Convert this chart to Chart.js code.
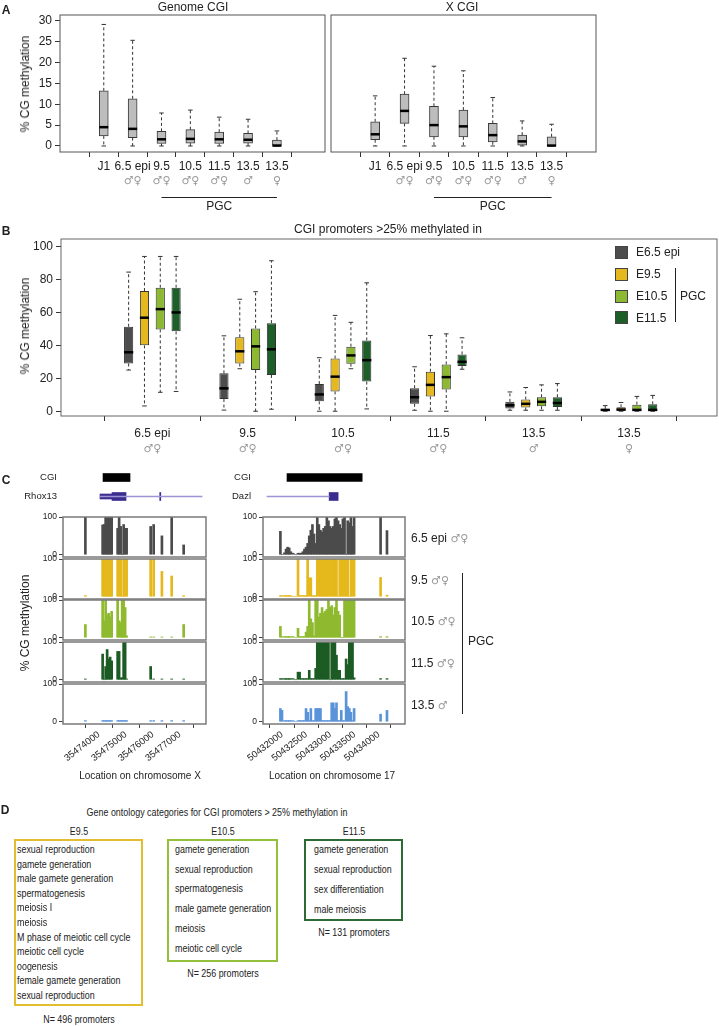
<!DOCTYPE html>
<html>
<head>
<meta charset="utf-8">
<script src="https://cdn.jsdelivr.net/npm/chart.js@4.4.1/dist/chart.umd.min.js"></script>
<style>
  body { margin: 0; background: #fff; }
  #fig { position: relative; width: 719px; height: 1026px; overflow: hidden;
         font-family: 'Liberation Sans', Arial, sans-serif; color: #222; }
  #fig canvas { position: absolute; }
  .t { position: absolute; white-space: nowrap; line-height: 1; }
  .sex { color: #9a9a9a; font-family: 'DejaVu Sans', sans-serif; font-size: 11px; }
  .narrow { font-size: 11px; }
</style>
</head>
<body>
<div id="fig"></div>
<script>
// ---------- panel A : CGI methylation, five-number summaries ----------
const aStages = ['J1', '6.5 epi', '9.5', '10.5', '11.5', '13.5', '13.5'];
const aSex = ['', '♂♀', '♂♀', '♂♀', '♂♀', '♂', '♀'];
const aTicks = [0, 5, 10, 15, 20, 25, 30];

const genomeMin = [0, 0, 0, 0, 0, 0, 0];
const genomeQ1  = [2.4, 2.0, 0.6, 0.7, 0.6, 0.7, 0];
const genomeMed = [4.5, 4.1, 1.6, 1.7, 1.6, 1.5, 0.1];
const genomeQ3  = [13.2, 11.3, 3.5, 3.9, 3.3, 3.0, 1.4];
const genomeMax = [29.1, 25.3, 7.9, 8.6, 6.9, 6.4, 3.6];

const xcgiMin = [0, 0, 0, 0, 0, 0, 0];
const xcgiQ1  = [1.5, 5.4, 2.2, 2.2, 1.0, 0.2, 0];
const xcgiMed = [2.8, 8.4, 5.0, 4.7, 2.6, 1.1, 0.1];
const xcgiQ3  = [5.8, 12.4, 9.5, 8.6, 5.4, 2.6, 2.2];
const xcgiMax = [12.0, 21.0, 19.1, 18.0, 11.6, 6.0, 5.2];

// ---------- panel B : promoters >25% methylated, [min, q1, median, q3, max] ----------
const bGroups = ['6.5 epi', '9.5', '10.5', '11.5', '13.5', '13.5'];
const bSex = ['♂♀', '♂♀', '♂♀', '♂♀', '♂', '♀'];
const bTicks = [0, 20, 40, 60, 80, 100];
const bStages = ['E6.5 epi', 'E9.5', 'E10.5', 'E11.5'];
const boxE65  = [[25, 29, 35.8, 51.3, 84.5], [0.7, 7.4, 13.9, 23, 45.8], [0, 6, 10.2, 16.5, 32.5], [0.6, 4.5, 8.5, 14, 27], [0.6, 1.6, 3.6, 5.7, 11.7], [0, 0, 0.8, 1.4, 3.4]];
const boxE95  = [[3.2, 40, 56.8, 73, 94], [25.8, 29, 36.4, 44.9, 68], [0, 12, 21, 32, 58.2], [0, 9, 16, 24, 46], [0.6, 2.2, 4.5, 7.1, 14.4], [0, 0, 1, 2.4, 5.3]];
const boxE105 = [[11.5, 49.7, 62, 75, 94], [0, 25, 39.4, 50.3, 72.6], [25.8, 28.9, 33.9, 39.2, 54], [0, 13.2, 20.7, 28.4, 47], [0.6, 3, 5.7, 8.5, 16], [0, 0, 0.8, 4, 9]];
const boxE115 = [[12, 48.5, 60, 75, 94], [1.2, 22, 37.6, 53.5, 91.4], [1.4, 18, 31, 43, 78], [25.5, 27.4, 30, 34.5, 44.6], [0.6, 2.6, 5, 8.5, 16.8], [0, 0, 0.8, 4.2, 9.6]];

// ---------- panel C : per-CpG methylation (%) at two loci ----------
const trackYTicks = [0, 100];
const trackNames = ['6.5 epi', '9.5', '10.5', '11.5', '13.5'];
const trackSex = ['♂♀', '♂♀', '♂♀', '♂♀', '♂'];

const rhoxTicks = [35474000, 35475000, 35476000, 35477000];
const rhoxSites = [35473500, 35474139, 35474195, 35474250, 35474306, 35474361, 35474417, 35474473, 35474695, 35474750,
                   35474806, 35474862, 35474917, 35474973, 35475028, 35475918, 35476029, 35476335, 35476697, 35477141];
const rhoxE65  = [100, 79, 80, 100, 100, 100, 100, 100, 70, 100, 75, 0, 80, 70, 70, 75, 80, 50, 100, 26];
const rhoxE95  = [3, 100, 100, 100, 100, 100, 100, 100, 100, 100, 100, 0, 100, 100, 100, 100, 100, 67, 55, 3];
const rhoxE105 = [35, 100, 45, 100, 60, 65, 55, 70, 100, 45, 40, 100, 100, 80, 5, 2, 2, 2, 2, 35];
const rhoxE115 = [2, 68, 0, 35, 80, 55, 60, 50, 75, 75, 5, 5, 100, 100, 2, 35, 2, 2, 2, 2];
const rhoxE135 = [3, 3, 3, 3, 3, 3, 3, 3, 3, 3, 3, 3, 3, 3, 3, 3, 3, 3, 3, 3];
const rhoxCGI = [35474445, 35475195];
const rhoxGene = [35474361, 35477197];
const rhoxUTR = [[35474361, 35474695]];
const rhoxExons = [[35474695, 35475084], [35476020, 35476050]];

const dazlTicks = [50432000, 50432500, 50433000, 50433500, 50434000];
const dazlSites = [50431967, 50432000, 50432050, 50432083, 50432116, 50432149, 50432182, 50432232, 50432282, 50432331,
                   50432364, 50432397, 50432431, 50432464, 50432497, 50432530, 50432563, 50432596, 50432629, 50432662,
                   50432696, 50432729, 50432762, 50432795, 50432828, 50432861, 50432894, 50432927, 50432960, 50432994,
                   50433027, 50433060, 50433093, 50433126, 50433159, 50433192, 50433225, 50433258, 50433292, 50433325,
                   50433358, 50433391, 50433424, 50433457, 50433490, 50434037, 50434169];
const dazlE65  = [62, 0, 5, 15, 20, 18, 8, 4, 0, 4, 4, 4, 8, 15, 20, 30, 50, 65, 80, 55,
                  30, 100, 80, 65, 60, 70, 75, 100, 90, 75, 70, 75, 95, 100, 90, 80, 70, 95, 100, 0,
                  90, 85, 100, 75, 100, 100, 64];
const dazlE95  = [3, 3, 3, 3, 3, 3, 3, 0, 0, 100, 3, 3, 3, 3, 3, 100, 50, 50, 3, 3,
                  3, 100, 100, 100, 100, 100, 100, 100, 100, 100, 100, 100, 100, 100, 0, 100, 100, 100, 100, 100,
                  100, 0, 100, 100, 100, 51, 4];
const dazlE105 = [30, 3, 3, 3, 3, 3, 3, 3, 0, 25, 3, 3, 3, 3, 15, 30, 100, 50, 40, 5,
                  100, 100, 55, 65, 80, 65, 70, 75, 100, 80, 85, 60, 80, 100, 70, 60, 0, 0, 100, 100,
                  100, 100, 100, 100, 100, 3, 3];
const dazlE115 = [3, 3, 3, 3, 3, 3, 3, 3, 0, 20, 20, 3, 3, 3, 3, 3, 25, 3, 3, 3,
                  30, 100, 100, 100, 100, 100, 100, 100, 100, 0, 100, 100, 100, 65, 25, 25, 3, 3, 3, 55,
                  40, 100, 100, 100, 5, 3, 3];
const dazlE135 = [35, 30, 3, 3, 3, 3, 3, 3, 0, 3, 3, 3, 3, 3, 35, 25, 3, 35, 3, 3,
                  35, 35, 35, 35, 3, 3, 3, 3, 3, 3, 50, 50, 35, 50, 3, 3, 30, 3, 3, 80,
                  40, 35, 25, 3, 35, 20, 30];
const dazlCGI = [50432298, 50433540];
const dazlGene = [50431967, 50432994];
const dazlUTR = [];
const dazlExons = [[50432994, 50433143]];

// ---------- panel D : GO categories ----------
const goE95 = ['sexual reproduction', 'gamete generation', 'male gamete generation', 'spermatogenesis', 'meiosis I',
               'meiosis', 'M phase of meiotic cell cycle', 'meiotic cell cycle', 'oogenesis',
               'female gamete generation', 'sexual reproduction'];
const goE105 = ['gamete generation', 'sexual reproduction', 'spermatogenesis', 'male gamete generation', 'meiosis',
                'meiotic cell cycle'];
const goE115 = ['gamete generation', 'sexual reproduction', 'sex differentiation', 'male meiosis'];
const promoterCounts = [496, 256, 131];

// ---------- setup ----------
Chart.defaults.font.family = "'Liberation Sans', Arial, sans-serif";
Chart.defaults.font.size = 12;
Chart.defaults.color = '#222';
Chart.defaults.animation = false;
Chart.defaults.plugins.legend.display = false;
Chart.defaults.plugins.tooltip.enabled = false;

const fig = document.getElementById('fig');
const sexFont = { family: "'DejaVu Sans', sans-serif", size: 11 };

function addCanvas(left, top, w, h) {
  const c = document.createElement('canvas');
  c.width = w; c.height = h;
  c.style.left = left + 'px'; c.style.top = top + 'px';
  c.style.width = w + 'px'; c.style.height = h + 'px';
  fig.appendChild(c);
  return c;
}

// centred text (anchor 'c') or left aligned and vertically centred (anchor 'l')
function addText(html, x, y, size, anchor, extra) {
  extra = extra || {};
  const d = document.createElement('div');
  d.className = 't' + (extra.cls ? ' ' + extra.cls : '');
  d.style.left = x + 'px';
  d.style.top = y + 'px';
  if (size) d.style.fontSize = size + 'px';
  let tr = anchor === 'l' ? 'translate(0,-50%)' : 'translate(-50%,-50%)';
  if (extra.rotate) tr += ' rotate(-90deg)';
  if (extra.squeeze) {
    tr += ` scaleX(${extra.squeeze})`;
    d.style.transformOrigin = anchor === 'l' ? 'left center' : 'center center';
  }
  d.style.transform = tr;
  if (extra.bold) d.style.fontWeight = 'bold';
  d.innerHTML = html;
  fig.appendChild(d);
  return d;
}

function addRule(left, top, w, h) {
  const d = document.createElement('div');
  d.style.cssText = `position:absolute;left:${left}px;top:${top}px;width:${w}px;height:${h}px;background:#222`;
  fig.appendChild(d);
}

const fixedTicks = (arr) => (s) => { s.ticks = arr.map(v => ({ value: v })); };

// frame around the plot area
const framePlugin = {
  id: 'frame',
  afterDatasetsDraw(chart, args, opts) {
    if (!opts || !opts.color) return;
    const a = chart.chartArea, ctx = chart.ctx;
    ctx.save();
    ctx.strokeStyle = opts.color;
    ctx.lineWidth = opts.width || 1;
    ctx.strokeRect(a.left, a.top, a.right - a.left, a.bottom - a.top);
    ctx.restore();
  }
};

// whiskers, caps and medians for the floating-bar boxes
const whiskerPlugin = {
  id: 'whiskers',
  afterDatasetsDraw(chart) {
    const ctx = chart.ctx, ys = chart.scales.y;
    chart.data.datasets.forEach((ds, di) => {
      if (!ds.whisker) return;
      chart.getDatasetMeta(di).data.forEach((bar, i) => {
        const x = bar.x, half = bar.width / 2;
        const lo = ys.getPixelForValue(ds.whisker.min[i]);
        const hi = ys.getPixelForValue(ds.whisker.max[i]);
        const q1 = ys.getPixelForValue(ds.data[i].y[0]);
        const q3 = ys.getPixelForValue(ds.data[i].y[1]);
        const md = ys.getPixelForValue(ds.whisker.med[i]);
        ctx.save();
        ctx.strokeStyle = '#333';
        ctx.lineWidth = 1;
        ctx.setLineDash([3, 2.5]);
        ctx.beginPath();
        ctx.moveTo(x, q3); ctx.lineTo(x, hi);
        ctx.moveTo(x, q1); ctx.lineTo(x, lo);
        ctx.stroke();
        ctx.setLineDash([]);
        ctx.beginPath();
        ctx.moveTo(x - half / 2, hi); ctx.lineTo(x + half / 2, hi);
        ctx.moveTo(x - half / 2, lo); ctx.lineTo(x + half / 2, lo);
        ctx.stroke();
        ctx.strokeStyle = '#000';
        ctx.lineWidth = 2.5;
        ctx.beginPath();
        ctx.moveTo(x - half, md); ctx.lineTo(x + half, md);
        ctx.stroke();
        ctx.restore();
      });
    });
  }
};

// "PGC" bracket under the x labels
const bracketPlugin = {
  id: 'bracket',
  afterDraw(chart, args, o) {
    if (!o || !o.label) return;
    const xs = chart.scales.x, ctx = chart.ctx;
    const x0 = xs.getPixelForValue(o.from), x1 = xs.getPixelForValue(o.to);
    ctx.save();
    ctx.strokeStyle = '#222';
    ctx.lineWidth = 1;
    ctx.beginPath();
    ctx.moveTo(x0, o.y + 0.5); ctx.lineTo(x1, o.y + 0.5);
    ctx.stroke();
    ctx.fillStyle = '#222';
    ctx.font = "12px 'Liberation Sans', Arial, sans-serif";
    ctx.textAlign = 'center';
    ctx.textBaseline = 'middle';
    ctx.fillText(o.label, (x0 + x1) / 2, o.textY);
    ctx.restore();
  }
};

Chart.register(framePlugin, whiskerPlugin, bracketPlugin);

// ---------- panel A ----------
function boxplotA(canvas, lo, q1, med, q3, hi, xr, showY, padL) {
  return new Chart(canvas, {
    type: 'bar',
    data: {
      datasets: [{
        data: q1.map((v, i) => ({ x: i + 1, y: [v, q3[i]] })),
        whisker: { min: lo, med: med, max: hi },
        backgroundColor: '#bdbdbd',
        borderColor: '#3a3a3a',
        borderWidth: 1,
        borderSkipped: false,
        barThickness: 9
      }]
    },
    options: {
      responsive: false,
      layout: { padding: { top: 15, right: 5, left: padL, bottom: 0 } },
      scales: {
        x: {
          type: 'linear', min: xr[0], max: xr[1], weight: 0,
          afterBuildTicks: fixedTicks(aStages.map((_, i) => i + 1)),
          afterFit: s => { s.height = 22; },
          ticks: { callback: (v, i) => aStages[i], autoSkip: false, maxRotation: 0, padding: 2 },
          grid: { drawOnChartArea: false, tickLength: 5, color: '#333' },
          border: { display: false }
        },
        x2: {
          type: 'linear', position: 'bottom', min: xr[0], max: xr[1], weight: 1,
          afterBuildTicks: fixedTicks(aSex.map((_, i) => i + 1)),
          afterFit: s => { s.height = 41; },
          ticks: { callback: (v, i) => aSex[i], autoSkip: false, maxRotation: 0, padding: 1,
                   color: '#9a9a9a', font: sexFont },
          grid: { display: false, drawTicks: false },
          border: { display: false }
        },
        y: {
          display: showY, min: -1.44, max: 31.36,
          afterBuildTicks: fixedTicks(aTicks),
          afterFit: s => { s.width = showY ? 60 : 0; },
          ticks: { padding: 3 },
          grid: { drawOnChartArea: false, tickLength: 5, color: '#333' },
          border: { display: false }
        }
      },
      plugins: {
        frame: { color: '#555', width: 1 },
        bracket: { from: 3, to: 7, y: 197, textY: 207, label: 'PGC' }
      }
    }
  });
}

boxplotA(addCanvas(0, 0, 330, 215), genomeMin, genomeQ1, genomeMed, genomeQ3, genomeMax, [0.139, 8.01], true, 0);
boxplotA(addCanvas(326, 0, 275, 215), xcgiMin, xcgiQ1, xcgiMed, xcgiQ3, xcgiMax, [0.142, 7.867], false, 5);

addText('A', 6, 10, 12, 'c', { bold: true });
addText('Genome CGI', 193, 7, 12);
addText('X CGI', 462, 7, 12);
addText('% CG methylation', 25, 84, 12, 'c', { rotate: true });

// ---------- panel B ----------
const bColors = ['#4d4d4d', '#e6b81f', '#8cb832', '#1e5e28'];
const bBoxes = [boxE65, boxE95, boxE105, boxE115];

new Chart(addCanvas(0, 228, 719, 234), {
  type: 'bar',
  data: {
    datasets: bBoxes.map((b, k) => ({
      label: bStages[k],
      data: b.map((s, i) => ({ x: i + 1, y: [s[1], s[3]] })),
      whisker: { min: b.map(s => s[0]), med: b.map(s => s[2]), max: b.map(s => s[4]) },
      backgroundColor: bColors[k],
      borderColor: '#333',
      borderWidth: 1,
      borderSkipped: false,
      categoryPercentage: 0.664,
      barPercentage: 0.58
    }))
  },
  options: {
    responsive: false,
    layout: { padding: { top: 11, right: 2, left: 0, bottom: 0 } },
    scales: {
      x: {
        type: 'linear', min: 0.615, max: 6.35, weight: 0,
        afterBuildTicks: fixedTicks(bGroups.map((_, i) => i + 1)),
        afterFit: s => { s.height = 26; },
        ticks: { callback: (v, i) => bGroups[i], autoSkip: false, maxRotation: 0, padding: 5 },
        grid: { drawOnChartArea: false, tickLength: 5, color: '#333' },
        border: { display: false }
      },
      x2: {
        type: 'linear', position: 'bottom', min: 0.615, max: 6.35, weight: 1,
        afterBuildTicks: fixedTicks(bSex.map((_, i) => i + 1)),
        afterFit: s => { s.height = 20; },
        ticks: { callback: (v, i) => bSex[i], autoSkip: false, maxRotation: 0, padding: 1,
                 color: '#9a9a9a', font: sexFont },
        grid: { display: false, drawTicks: false },
        border: { display: false }
      },
      y: {
        min: -2.9, max: 104.6,
        afterBuildTicks: fixedTicks(bTicks),
        afterFit: s => { s.width = 61; },
        ticks: { padding: 3 },
        grid: { drawOnChartArea: false, tickLength: 5, color: '#333' },
        border: { display: false }
      }
    },
    plugins: { frame: { color: '#666', width: 1 } }
  }
});

addText('B', 6, 231, 12, 'c', { bold: true });
addText('CGI promoters &gt;25% methylated in', 388, 229, 12);
addText('% CG methylation', 25, 326, 12, 'c', { rotate: true });

// legend built from the stage names and colours
bStages.forEach((name, k) => {
  const cy = 252 + 21.9 * k;
  const sq = document.createElement('div');
  sq.style.cssText = `position:absolute;left:615px;top:${cy - 6.25}px;width:11px;height:11px;` +
                     `background:${bColors[k]};border:1px solid #444`;
  fig.appendChild(sq);
  addText(name, 636, cy, 12, 'l');
});
addRule(675, 268, 1, 54);
addText('PGC', 680, 296, 12, 'l');

// ---------- panel C ----------
const trackColors = ['#4b4b4b', '#e5b81c', '#8fba2f', '#1d5b24', '#5b93d9'];
const trackTops = [517, 559, 600, 642, 684];

function track(left, width, sites, values, row, range, ticks) {
  const last = row === trackTops.length - 1;
  const c = addCanvas(left, trackTops[row] - 8, width, last ? 93 : 56);
  return new Chart(c, {
    type: 'bar',
    data: {
      datasets: [{
        data: sites.map((x, i) => ({ x: x, y: values[i] })),
        backgroundColor: trackColors[row],
        barThickness: 2
      }]
    },
    options: {
      responsive: false,
      layout: { padding: { top: 8, bottom: last ? 0 : 8, right: 4, left: 0 } },
      scales: {
        x: {
          type: 'linear', min: range[0], max: range[1], display: last,
          afterBuildTicks: fixedTicks(ticks),
          afterFit: s => { s.height = last ? 45 : 0; },
          ticks: { minRotation: 38, maxRotation: 38, autoSkip: false, padding: 1,
                   font: { size: 9.5 }, callback: v => String(v) },
          grid: { drawOnChartArea: false, tickLength: 4, color: '#444' },
          border: { display: false }
        },
        y: {
          min: -6, max: 100,
          afterBuildTicks: fixedTicks(trackYTicks),
          afterFit: s => { s.width = 63; },
          ticks: { font: { size: 8.5 }, padding: 2 },
          grid: { drawOnChartArea: false, tickLength: 4, color: '#444' },
          border: { display: false }
        }
      },
      plugins: { frame: { color: '#7a7a7a', width: 1.5 } }
    }
  });
}

function geneTrack(left, width, range, labels, cgi, gene, utr, exons, tickPad) {
  const pad = tickPad + 6;
  const c = addCanvas(left, 468 - pad, width, pad * 2 + 38);
  const onGene = (r) => ({ x: r, y: labels[1] });
  return new Chart(c, {
    type: 'bar',
    data: {
      datasets: [
        { data: [{ x: cgi, y: labels[0] }], backgroundColor: '#000', barThickness: 8, grouped: false },
        { data: [onGene(gene)], backgroundColor: '#9d94d4', barThickness: 1, grouped: false },
        { data: utr.map(onGene), backgroundColor: '#3b2d8f', barThickness: 5, grouped: false },
        { data: exons.map(onGene), backgroundColor: '#3b2d8f', barThickness: 8, grouped: false }
      ]
    },
    options: {
      responsive: false,
      indexAxis: 'y',
      layout: { padding: { top: pad, bottom: pad, right: 4, left: 0 } },
      scales: {
        x: { type: 'linear', min: range[0], max: range[1], display: false },
        y: {
          type: 'category', labels: labels,
          afterFit: s => { s.width = 63; },
          ticks: { font: { size: 9.5 }, padding: tickPad },
          grid: { display: false, drawTicks: false },
          border: { display: false }
        }
      }
    }
  });
}

const rhoxRange = [35473333, 35477306];
const dazlRange = [50431901, 50434248];
const rhoxTracks = [rhoxE65, rhoxE95, rhoxE105, rhoxE115, rhoxE135];
const dazlTracks = [dazlE65, dazlE95, dazlE105, dazlE115, dazlE135];

geneTrack(0, 210, rhoxRange, ['CGI', 'Rhox13'], rhoxCGI, rhoxGene, rhoxUTR, rhoxExons, 6);
geneTrack(200, 209, dazlRange, ['CGI', 'Dazl'], dazlCGI, dazlGene, dazlUTR, dazlExons, 12);

rhoxTracks.forEach((vals, r) => track(0, 210, rhoxSites, vals, r, rhoxRange, rhoxTicks));
dazlTracks.forEach((vals, r) => track(200, 209, dazlSites, vals, r, dazlRange, dazlTicks));

addText('C', 6, 480, 12, 'c', { bold: true });
addText('% CG methylation', 25, 623, 12, 'c', { rotate: true });
addText('Location on chromosome X', 140, 776, 10);
addText('Location on chromosome 17', 332, 776, 10);
trackNames.forEach((n, r) => {
  addText(`${n} <span class="sex">${trackSex[r]}</span>`, 411, trackTops[r] + 21, 12, 'l');
});
addRule(462, 573, 1, 141);
addText('PGC', 468, 641, 12, 'l');

// ---------- panel D ----------
const narrow = { cls: 'narrow', squeeze: 0.81 };
addText('D', 5, 810, 12, 'c', { bold: true });
addText('Gene ontology categories for CGI promoters &gt; 25% methylation in', 217, 812, null, 'c', narrow);

const goBoxes = [
  { name: 'E9.5', terms: goE95, color: '#e2bd2f', left: 14, right: 143, bottom: 1006, textX: 17, step: 14.6 },
  { name: 'E10.5', terms: goE105, color: '#95c03c', left: 167, right: 278, bottom: 962, textX: 175, step: 19.7 },
  { name: 'E11.5', terms: goE115, color: '#2e6b34', left: 304, right: 403, bottom: 921, textX: 314, step: 20 }
];
goBoxes.forEach((b, k) => {
  const cx = (b.left + b.right) / 2;
  const box = document.createElement('div');
  box.style.cssText = `position:absolute;left:${b.left}px;top:839px;width:${b.right - b.left - 4}px;` +
                      `height:${b.bottom - 839 - 4}px;border:2px solid ${b.color}`;
  fig.appendChild(box);
  addText(b.name, cx, 831, null, 'c', narrow);
  b.terms.forEach((term, i) => addText(term, b.textX, 849 + b.step * i, null, 'l', narrow));
  const nY = k === 0 ? 1019 : b.bottom + 11;
  addText(`N= ${promoterCounts[k]} promoters`, cx, nY, null, 'c', narrow);
});
</script>
</body>
</html>
